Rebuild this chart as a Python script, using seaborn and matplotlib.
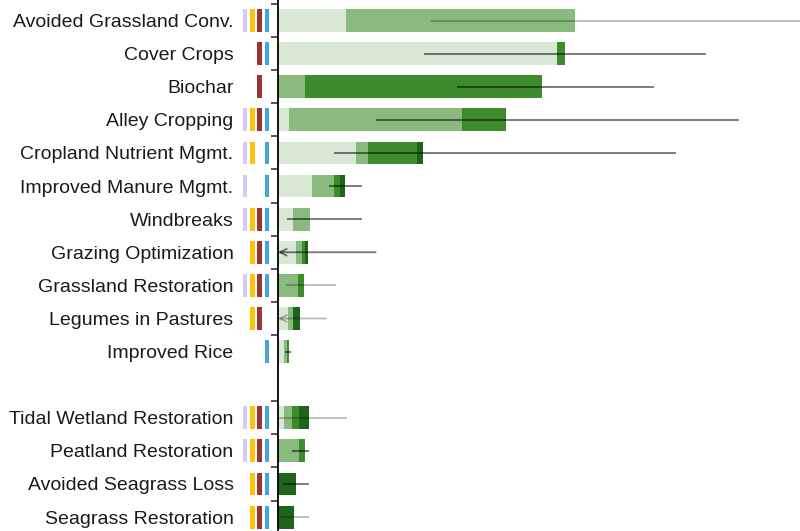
import numpy as np
import pandas as pd
import matplotlib
matplotlib.use("Agg")
import matplotlib.pyplot as plt
import seaborn as sns

sns.set_theme(style="white")
plt.rcParams["font.family"] = ["Liberation Sans", "DejaVu Sans"]

# Data
categories = ["Avoided Grassland Conv.", "Cover Crops", "Biochar", "Alley Cropping",
              "Cropland Nutrient Mgmt.", "Improved Manure Mgmt.", "Windbreaks",
              "Grazing Optimization", "Grassland Restoration", "Legumes in Pastures",
              "Improved Rice", "Tidal Wetland Restoration", "Peatland Restoration",
              "Avoided Seagrass Loss", "Seagrass Restoration"]
light = [26.1, 107.0, 0, 4.2, 29.8, 12.9, 5.6, 6.8, 0, 3.7, 2.2, 2.2, 0, 0, 0]
medium = [87.7, 0, 10.2, 66.3, 4.7, 8.6, 6.5, 2.4, 7.8, 2.0, 1.2, 3.3, 8.2, 0, 0]
green = [0, 3.0, 90.9, 16.7, 18.8, 2.3, 0, 1.1, 2.0, 0, 0.9, 2.7, 2.0, 0, 0]
dark = [0, 0, 0, 0, 2.4, 1.9, 0, 1.2, 0, 2.6, 0, 3.7, 0, 7.0, 6.0]
err_low = [58.6, 56.1, 68.4, 37.4, 21.5, 19.5, 3.4, -15.0, 3.0, -8.0, 2.7, 0, 5.4, 1.8, 0.8]
err_high = [240, 163.8, 143.9, 176.6, 152.3, 32.2, 32.2, 37.4, 22.3, 18.4, 5.0, 26.3, 12.0, 12.0, 12.0]
err_faint = [1, 0, 0, 0, 0, 0, 0, 0, 1, 1, 0, 1, 0, 0, 1]

# indicator columns (purple, yellow, red, blue)
ind_purple = [1, 0, 0, 1, 1, 1, 1, 0, 1, 0, 0, 1, 1, 0, 0]
ind_yellow = [1, 0, 0, 1, 1, 0, 1, 1, 1, 1, 0, 1, 1, 1, 1]
ind_red = [1, 1, 1, 1, 0, 0, 1, 1, 1, 1, 0, 1, 1, 1, 1]
ind_blue = [1, 1, 0, 1, 1, 1, 1, 1, 1, 0, 1, 1, 1, 1, 1]

# order with a spacer row after the agriculture/grassland group
order = categories[:11] + [" "] + categories[11:]

df = pd.DataFrame({"category": categories, "light": light, "medium": medium,
                   "green": green, "dark": dark})
df["c1"] = df["light"]
df["c2"] = df["c1"] + df["medium"]
df["c3"] = df["c2"] + df["green"]
df["c4"] = df["c3"] + df["dark"]

shades = {"c4": "#1e6419", "c3": "#3d8b2b", "c2": "#8aba7d", "c1": "#d9e7d5"}
BAR_H = 0.69

fig = plt.figure(figsize=(8, 5.31), dpi=100)
ax = fig.add_axes([0.30, 0.0, 0.70, 1.0])

# layered bars: draw cumulative totals from the outside in
for col in ["c4", "c3", "c2", "c1"]:
    sns.barplot(data=df, x=col, y="category", order=order, color=shades[col],
                saturation=1, width=BAR_H, errorbar=None, linewidth=0, ax=ax)

# uncertainty ranges
ypos = [order.index(c) for c in categories]
for y, lo, hi, faint in zip(ypos, err_low, err_high, err_faint):
    alpha = 0.27 if faint else 0.55
    if lo < 0:
        ax.annotate("", xy=(0, y), xytext=(hi, y),
                    arrowprops=dict(arrowstyle="->", color="black", alpha=alpha,
                                    lw=1.3, shrinkA=0, shrinkB=0,
                                    mutation_scale=12))
    else:
        ax.hlines(y, lo, hi, color="black", alpha=alpha, lw=1.3)

# small coloured indicator bars left of the axis
ind_cols = [(ind_purple, "#d5cbf3", -13.3), (ind_yellow, "#ffc20a", -10.6),
            (ind_red, "#9a3434", -7.9), (ind_blue, "#45a4dc", -5.0)]
for flags, colr, left in ind_cols:
    for y, f in zip(ypos, flags):
        if f:
            ax.barh(y, 1.6, left=left, height=BAR_H, color=colr, linewidth=0)

ax.set_xlim(-14.56, 200)
ax.set_ylim(15.42, -0.62)
ax.set_xlabel("")
ax.set_ylabel("")
ax.set_xticks([])

for s in ["top", "right", "bottom"]:
    ax.spines[s].set_visible(False)
ax.spines["left"].set_position(("data", 0))
ax.spines["left"].set_color("black")
ax.spines["left"].set_linewidth(1.3)

ax.set_yticks(range(len(order)))
ax.set_yticklabels(order, fontsize=14, color="#1a1a1a")
ax.tick_params(axis="y", which="major", left=True, length=0, pad=32)
ax.set_yticks([i - 0.5 for i in ypos], minor=True)
ax.tick_params(axis="y", which="minor", left=True, length=5, width=1.4,
               color="#555555", direction="out")

fig.savefig("out.png", dpi=100, facecolor="white")
